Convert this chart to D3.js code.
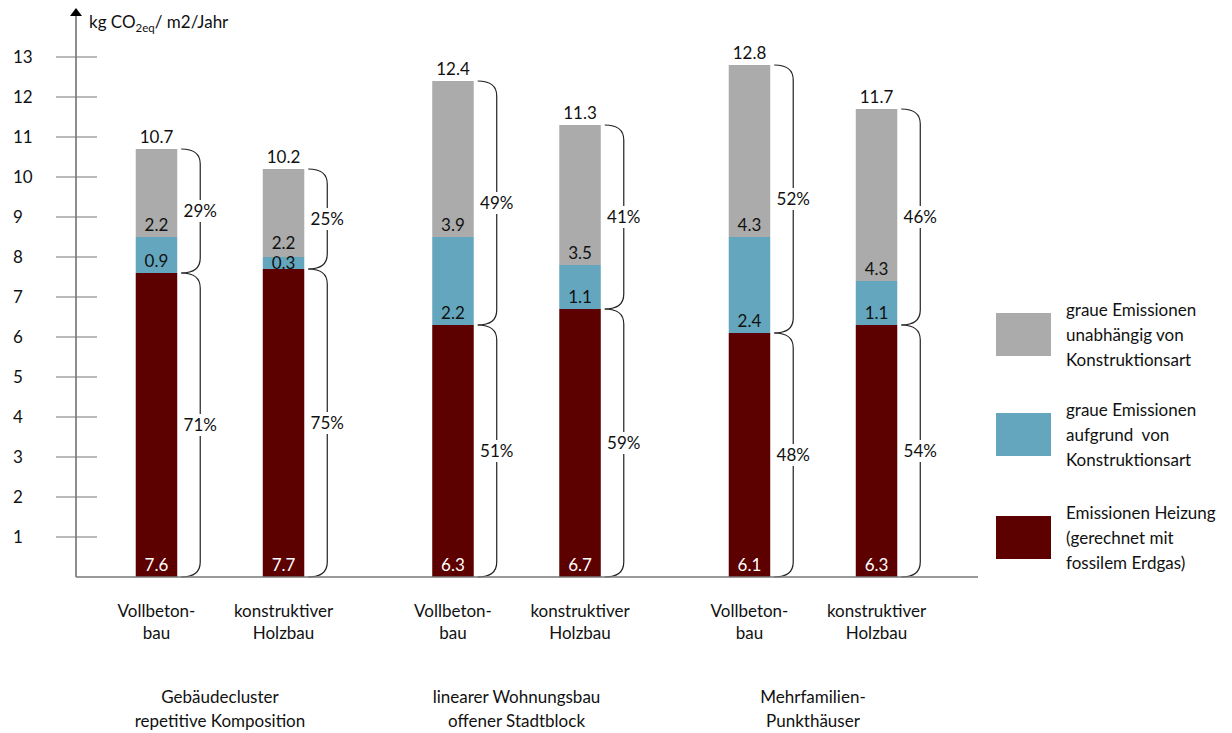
<!DOCTYPE html>
<html>
<head>
<meta charset="utf-8">
<script src="https://cdn.jsdelivr.net/npm/d3@7"></script>
<style>
  body { margin: 0; background: #fff; }
  svg { font-family: Lato, "Open Sans", sans-serif; }
</style>
</head>
<body>
<svg id="chart" width="1232" height="733"></svg>
<script>
// data
var groups = ["Gebäudecluster|repetitive Komposition", "linearer Wohnungsbau|offener Stadtblock", "Mehrfamilien-|Punkthäuser"];
var types = ["Vollbeton-|bau", "konstruktiver|Holzbau"];
var heizung = [7.6, 7.7, 6.3, 6.7, 6.1, 6.3];
var konstruktion = [0.9, 0.3, 2.2, 1.1, 2.4, 1.1];
var unabhaengig = [2.2, 2.2, 3.9, 3.5, 4.3, 4.3];
var totals = [10.7, 10.2, 12.4, 11.3, 12.8, 11.7];
var pctGrau = ["29%", "25%", "49%", "41%", "52%", "46%"];
var pctHeizung = ["71%", "75%", "51%", "59%", "48%", "54%"];
var yTicks = [1, 2, 3, 4, 5, 6, 7, 8, 9, 10, 11, 12, 13];
var legendLabels = [
  ["graue Emissionen", "unabhängig von", "Konstruktionsart"],
  ["graue Emissionen", "aufgrund  von", "Konstruktionsart"],
  ["Emissionen Heizung", "(gerechnet mit", "fossilem Erdgas)"]
];

var colGrau = "#ababab", colBlau = "#63a6bd", colRot = "#5c0000";
var fs = 17;

var svg = d3.select("#chart");

// scales
var y = d3.scaleLinear().domain([0, 13]).range([577, 57]);
var xGroup = d3.scaleBand().domain(groups).range([71.75, 961.25]).padding(0);
var xType = d3.scalePoint().domain(types).range([0, xGroup.bandwidth()]).padding(0.667);
var barW = 41.5;

// build rows
var rows = [];
for (var i = 0; i < 6; i++) {
  var g = groups[Math.floor(i / 2)];
  var t = types[i % 2];
  rows.push({
    cx: xGroup(g) + xType(t),
    type: t,
    red: heizung[i], blue: konstruktion[i], grey: unabhaengig[i],
    total: totals[i], pUp: pctGrau[i], pLow: pctHeizung[i]
  });
}

// y axis
var axisX = 76;
svg.append("line").attr("x1", axisX).attr("x2", axisX).attr("y1", y(0)).attr("y2", 14)
  .attr("stroke", "#444").attr("stroke-width", 1.2);
svg.append("path").attr("d", "M" + (axisX - 6) + ",16 L" + axisX + ",8 L" + (axisX + 6) + ",16 Z").attr("fill", "#000");

svg.selectAll(".tick").data(yTicks).enter().append("line")
  .attr("x1", 56).attr("x2", 97)
  .attr("y1", function(d){ return y(d); }).attr("y2", function(d){ return y(d); })
  .attr("stroke", "#777").attr("stroke-width", 1.2);

svg.selectAll(".tlab").data(yTicks).enter().append("text")
  .attr("x", 13).attr("y", function(d){ return y(d); }).attr("dy", "0.35em")
  .attr("font-size", fs).attr("fill", "#111")
  .text(function(d){ return d; });

// unit label
var unit = svg.append("text").attr("x", 89).attr("y", 28).attr("font-size", fs).attr("fill", "#111");
unit.append("tspan").text("kg CO");
unit.append("tspan").attr("font-size", 11.5).attr("dy", 4).text("2eq");
unit.append("tspan").attr("dy", -4).text("/ m2/Jahr");

// bars
var bars = svg.selectAll(".bar").data(rows).enter().append("g");
bars.append("rect").attr("x", function(d){ return d.cx - barW / 2; }).attr("width", barW)
  .attr("y", function(d){ return y(d.red); }).attr("height", function(d){ return y(0) - y(d.red); })
  .attr("fill", colRot);
bars.append("rect").attr("x", function(d){ return d.cx - barW / 2; }).attr("width", barW)
  .attr("y", function(d){ return y(d.red + d.blue); }).attr("height", function(d){ return y(d.red) - y(d.red + d.blue); })
  .attr("fill", colBlau);
bars.append("rect").attr("x", function(d){ return d.cx - barW / 2; }).attr("width", barW)
  .attr("y", function(d){ return y(d.total); }).attr("height", function(d){ return y(d.red + d.blue) - y(d.total); })
  .attr("fill", colGrau);

// baseline
svg.append("line").attr("x1", axisX).attr("x2", 978).attr("y1", y(0)).attr("y2", y(0))
  .attr("stroke", "#777").attr("stroke-width", 1.5);

// value labels: near the bottom of each segment, centred if the segment is tiny
function blueY(d) {
  var b = y(d.red), c = (y(d.red) + y(d.red + d.blue)) / 2;
  return Math.max(b - 12, c);
}
function greyY(d) {
  return Math.min(y(d.red + d.blue) - 12, blueY(d) - 20);
}
function addLabel(fn, ypos, color) {
  bars.append("text").attr("x", function(d){ return d.cx; })
    .attr("y", ypos).attr("dy", "0.35em")
    .attr("text-anchor", "middle").attr("font-size", fs).attr("fill", color)
    .text(fn);
}
addLabel(function(d){ return d.red; }, function(d){ return y(0) - 12; }, "#fff");
addLabel(function(d){ return d.blue; }, blueY, "#111");
addLabel(function(d){ return d.grey; }, greyY, "#111");
addLabel(function(d){ return d.total; }, function(d){ return y(d.total) - 12; }, "#111");

// braces
function brace(x0, y0, y1) {
  var x1 = x0 + 19, r = 15;
  return "M" + x0 + "," + y0 + " Q" + x1 + "," + y0 + " " + x1 + "," + (y0 + r) +
    " L" + x1 + "," + (y1 - r) + " Q" + x1 + "," + y1 + " " + x0 + "," + y1;
}
bars.each(function(d) {
  var g = d3.select(this);
  var bx = d.cx + barW / 2 + 4;
  var top = y(d.total), mid = y(d.red), bot = y(0);
  g.append("path").attr("d", brace(bx, top, mid)).attr("fill", "none").attr("stroke", "#222").attr("stroke-width", 1.2);
  g.append("path").attr("d", brace(bx, mid, bot)).attr("fill", "none").attr("stroke", "#222").attr("stroke-width", 1.2);
  [[d.pUp, (top + mid) / 2], [d.pLow, (mid + bot) / 2]].forEach(function(p) {
    g.append("rect").attr("x", bx + 19 - 18).attr("y", p[1] - 11).attr("width", 36).attr("height", 22).attr("fill", "#fff");
    g.append("text").attr("x", bx + 19).attr("y", p[1]).attr("dy", "0.35em")
      .attr("text-anchor", "middle").attr("font-size", fs).attr("fill", "#111").text(p[0]);
  });
});

// category labels
bars.each(function(d) {
  var lines = d.type.split("|");
  var t = d3.select(this).append("text").attr("text-anchor", "middle").attr("font-size", fs).attr("fill", "#111");
  lines.forEach(function(l, k) {
    t.append("tspan").attr("x", d.cx).attr("y", 611 + k * 22).attr("dy", "0.35em").text(l);
  });
});

svg.selectAll(".grp").data(groups).enter().append("text")
  .attr("text-anchor", "middle").attr("font-size", fs).attr("fill", "#111")
  .each(function(g) {
    var t = d3.select(this);
    g.split("|").forEach(function(l, k) {
      t.append("tspan").attr("x", xGroup(g) + xGroup.bandwidth() / 2).attr("y", 697 + k * 24).attr("dy", "0.35em").text(l);
    });
  });

// legend
var legCols = [colGrau, colBlau, colRot];
var legTop = [313, 413, 516];
var leg = svg.selectAll(".leg").data(legendLabels).enter().append("g");
leg.append("rect").attr("x", 996).attr("width", 55)
  .attr("y", function(d, i){ return legTop[i]; }).attr("height", 43)
  .attr("fill", function(d, i){ return legCols[i]; });
leg.each(function(d, i) {
  var t = d3.select(this).append("text").attr("font-size", fs).attr("fill", "#111").attr("xml:space", "preserve");
  d.forEach(function(l, k) {
    t.append("tspan").attr("x", 1066).attr("y", legTop[i] - 3 + k * 25).attr("dy", "0.35em").text(l);
  });
});
</script>
</body>
</html>
